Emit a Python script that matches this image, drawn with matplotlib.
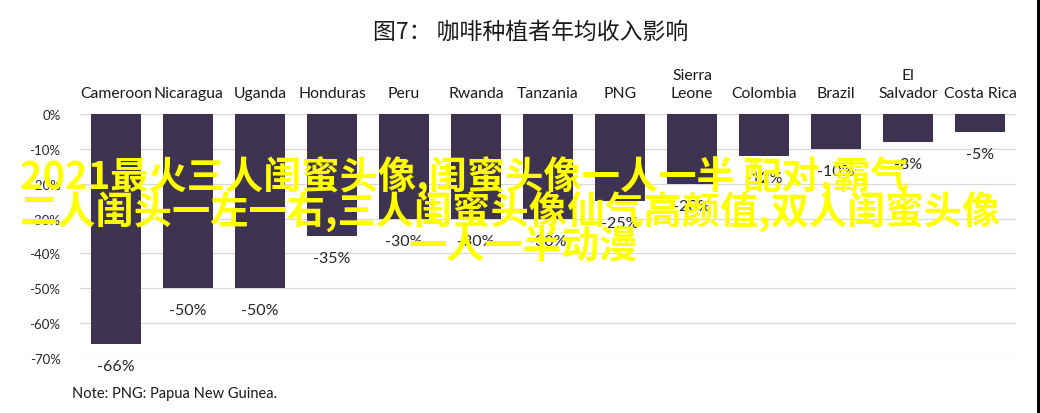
import matplotlib.pyplot as plt
from matplotlib.patches import Rectangle
from matplotlib.ticker import FuncFormatter

# 数据
countries = ['Cameroon', 'Nicaragua', 'Uganda', 'Honduras', 'Peru', 'Rwanda',
             'Tanzania', 'PNG', 'Sierra\nLeone', 'Colombia', 'Brazil',
             'El\nSalvador', 'Costa Rica']
impact = [-66, -50, -50, -35, -30, -30, -30, -25, -20, -12, -10, -8, -5]
y_ticks = [0, -10, -20, -30, -40, -50, -60, -70]

title = '图7： 咖啡种植者年均收入影响'
note = 'Note: PNG: Papua New Guinea.'
overlay_lines = ['2021最火三人闺蜜头像,闺蜜头像一人一半 配对,霸气',
                 '二人闺头一左一右,三人闺蜜头像仙气高颜值,双人闺蜜头像',
                 '一人一半动漫']

bar_color = '#3f3352'
grid_color = '#d9d9d9'
latin = ['Lato', 'DejaVu Sans']
cjk = ['Noto Sans CJK SC', 'DejaVu Sans']

fig = plt.figure(figsize=(10.4, 4.14), dpi=100)
W, H = 1040, 414
ax = fig.add_axes([80 / W, (H - 358.8) / H, (1016 - 80) / W, (358.8 - 115.2) / H])

x = range(len(countries))
ax.bar(x, impact, width=0.69, color=bar_color, zorder=2)

ax.set_xlim(-0.5, len(countries) - 0.5)
ax.set_ylim(-70, 0)
ax.set_yticks(y_ticks)
ax.yaxis.set_major_formatter(FuncFormatter(lambda v, p: f'{int(v)}%'))
ax.tick_params(axis='y', length=0, pad=14, labelsize=9.5, colors='#262626')
for lab in ax.get_yticklabels():
    lab.set_family(latin)
ax.set_xticks([])
ax.grid(axis='y', color=grid_color, linewidth=0.9, zorder=0)
for s in ax.spines.values():
    s.set_visible(False)

# 顶部国家标签
for i, c in enumerate(countries):
    ax.annotate(c, (i, 0), xytext=(0, 10), textcoords='offset points',
                ha='center', va='bottom', fontsize=11.3, family=latin,
                color='#1a1a1a', linespacing=1.4)
    # 数值标签
    ax.annotate(f'{impact[i]}%', (i, impact[i]), xytext=(0, -16),
                textcoords='offset points', ha='center', va='center',
                fontsize=11.5, family=latin, color='#262626')

fig.text(531 / W, 1 - 33 / H, title, ha='center', va='center',
         fontsize=16.5, family=cjk, color='#1a1a1a')
fig.text(72 / W, 1 - 394 / H, note, ha='left', va='center',
         fontsize=10.5, family=latin, color='#1a1a1a')

# 黄色水印文字
fig.text(20 / W, 1 - 177 / H, overlay_lines[0], ha='left', va='center',
         fontsize=27.5, family=cjk, fontweight='bold', color='#ffff00', zorder=10)
fig.text(20 / W, 1 - 212 / H, overlay_lines[1], ha='left', va='center',
         fontsize=27.5, family=cjk, fontweight='bold', color='#ffff00', zorder=10)
fig.text(523 / W, 1 - 247 / H, overlay_lines[2], ha='center', va='center',
         fontsize=27.5, family=cjk, fontweight='bold', color='#ffff00', zorder=10)

# 右侧黑边
fig.patches.append(Rectangle((1037 / W, 0), 3 / W, 1, transform=fig.transFigure,
                             facecolor='black', edgecolor='none'))

fig.savefig('out.png', dpi=100, facecolor='white')
